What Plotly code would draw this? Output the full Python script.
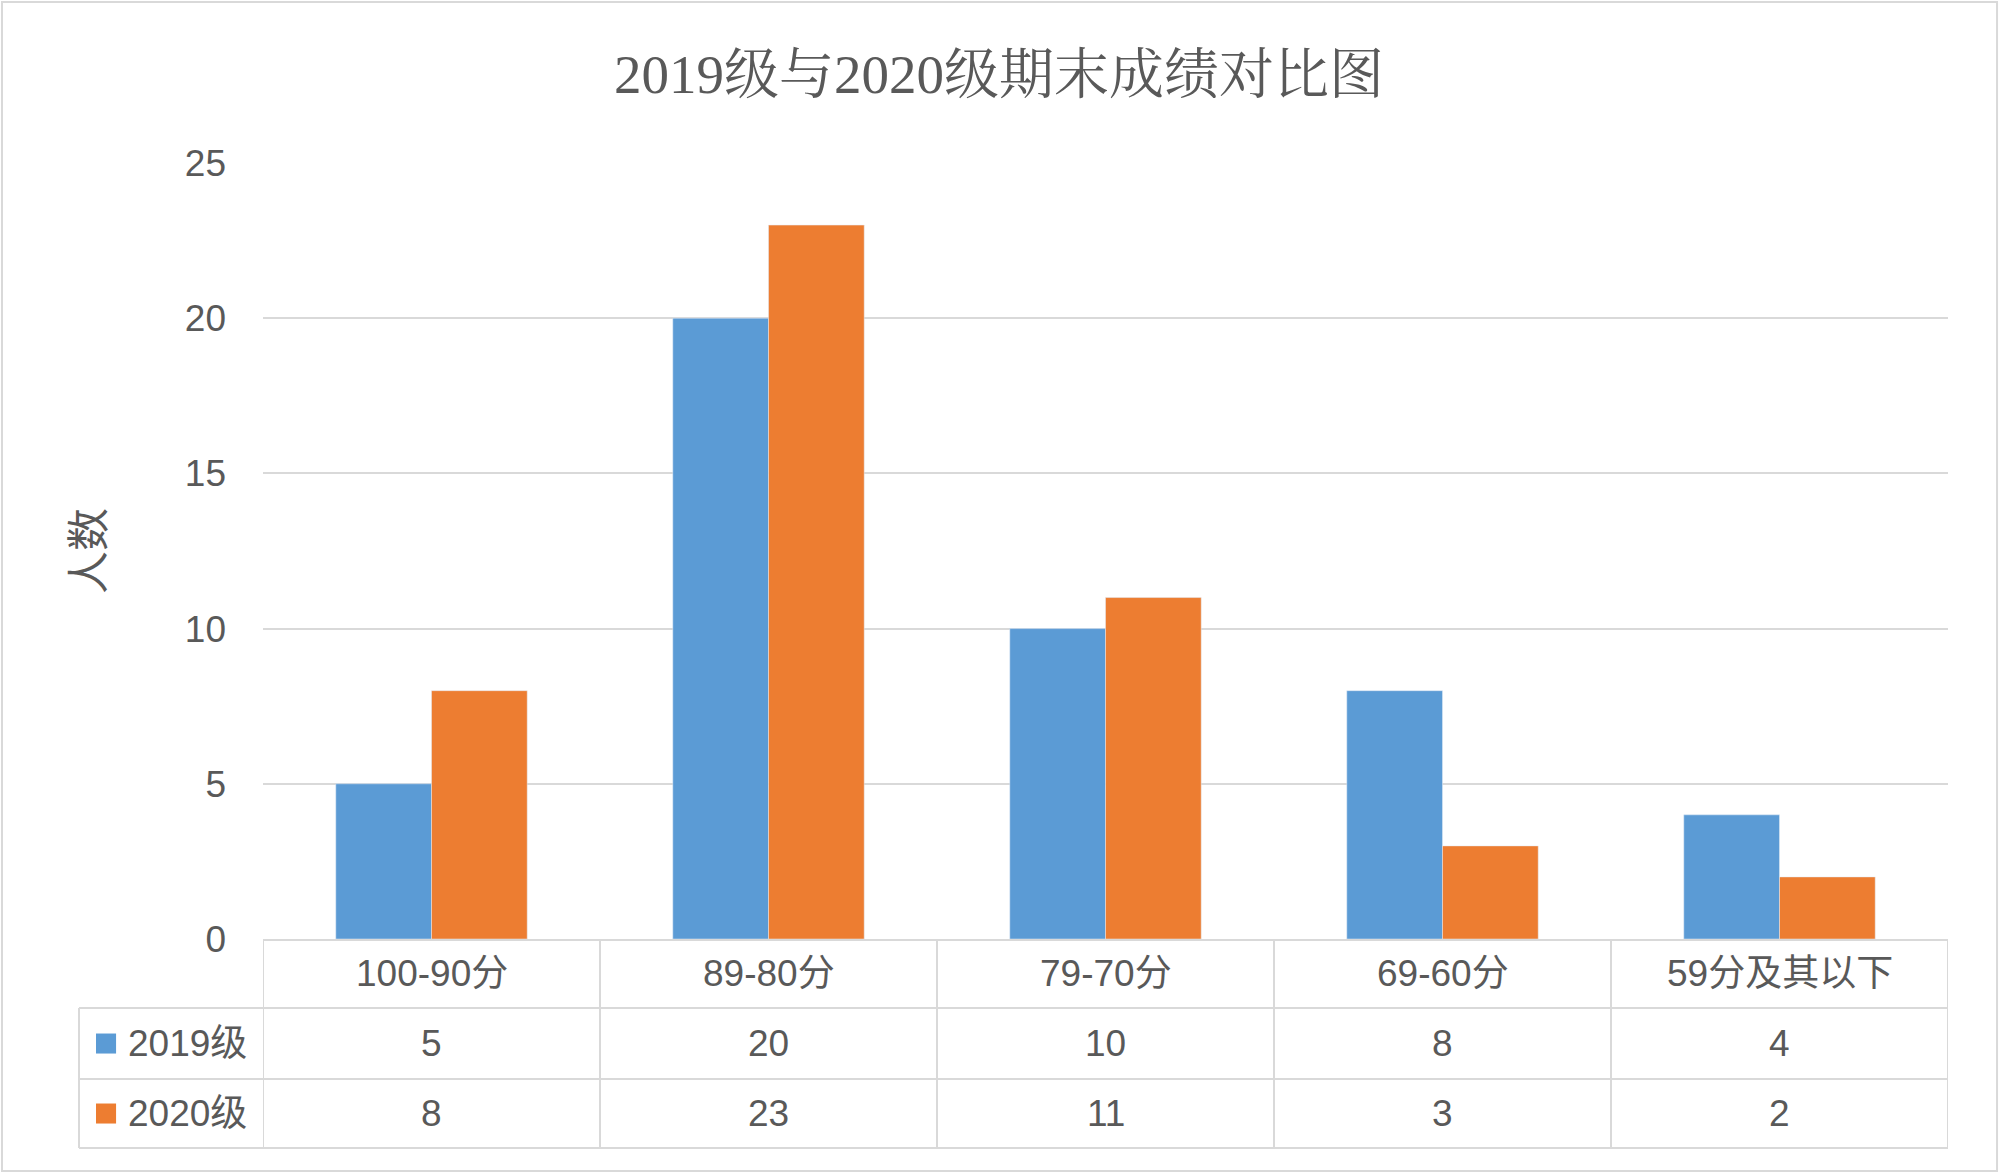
import plotly.graph_objects as go

categories = ["100-90分", "89-80分", "79-70分", "69-60分", "59分及其以下"]
series_names = ["2019级", "2020级"]
values_2019 = [5, 20, 10, 8, 4]
values_2020 = [8, 23, 11, 3, 2]
y_ticks = [0, 5, 10, 15, 20, 25]

colors = ["#5B9BD5", "#ED7D31"]
grid = "#D9D9D9"
txt = "#595959"
sans = "Liberation Sans, Noto Sans CJK SC, sans-serif"
serif = "Liberation Serif, Noto Serif CJK SC, Noto Sans CJK SC, serif"
fs = 37

fig = go.Figure()
for name, vals, col in zip(series_names, [values_2019, values_2020], colors):
    fig.add_trace(go.Bar(x=categories, y=vals, name=name, marker_color=col, showlegend=False))

# table under the plot (paper y, category x)
row_lines = [0, -0.0889, -0.1804, -0.2693]
row_mid = [-0.0445, -0.1347, -0.2249]
left_x = -0.1092

shapes = []
for i in range(len(categories) + 1):
    shapes.append(dict(type="line", xref="x", yref="paper", x0=i - 0.5, x1=i - 0.5,
                       y0=row_lines[0], y1=row_lines[-1], line=dict(color=grid, width=2)))
shapes.append(dict(type="line", xref="paper", yref="paper", x0=left_x, x1=left_x,
                   y0=row_lines[1], y1=row_lines[-1], line=dict(color=grid, width=2)))
for yl in row_lines[1:]:
    shapes.append(dict(type="line", xref="paper", yref="paper", x0=left_x, x1=1,
                       y0=yl, y1=yl, line=dict(color=grid, width=2)))
# outer chart border
shapes.append(dict(type="rect", xref="paper", yref="paper", x0=-0.1549, x1=1.0291,
                   y0=-0.299, y1=1.2075, line=dict(color=grid, width=2)))

annotations = []
for c in categories:
    annotations.append(dict(x=c, y=row_mid[0], xref="x", yref="paper", text=c, showarrow=False,
                            xanchor="center", yanchor="middle",
                            font=dict(family=sans, size=fs, color=txt)))
for r, (name, vals, col) in enumerate(zip(series_names, [values_2019, values_2020], colors)):
    ym = row_mid[r + 1]
    for c, v in zip(categories, vals):
        annotations.append(dict(x=c, y=ym, xref="x", yref="paper", text=str(v), showarrow=False,
                                xanchor="center", yanchor="middle",
                                font=dict(family=sans, size=fs, color=txt)))
    shapes.append(dict(type="rect", xref="paper", yref="paper", x0=-0.0991, x1=-0.0872,
                       y0=ym - 0.0129, y1=ym + 0.0129, fillcolor=col, line=dict(width=0)))
    annotations.append(dict(x=-0.0815, y=ym, xref="paper", yref="paper", text=name, showarrow=False,
                            xanchor="left", yanchor="middle",
                            font=dict(family=sans, size=fs, color=txt)))

annotations.append(dict(x=-0.1033, y=0.5, xref="paper", yref="paper", text="人数", showarrow=False,
                        xanchor="center", yanchor="middle", textangle=-90,
                        font=dict(family=sans, size=43, color=txt)))

fig.update_layout(
    width=2000, height=1175,
    margin=dict(l=263, r=52, t=163, b=236),
    paper_bgcolor="white", plot_bgcolor="white",
    barmode="group", bargap=0.432, bargroupgap=0,
    title=dict(text="2019级与2020级期末成绩对比图", x=0.4995, xref="container", xanchor="center",
               y=0.937, yref="container", yanchor="middle",
               font=dict(family=serif, size=55, color=txt)),
    xaxis=dict(showticklabels=False, showgrid=False, showline=True, linecolor=grid, linewidth=2,
               ticks="", range=[-0.5, len(categories) - 0.5]),
    yaxis=dict(range=[0, 25], tickvals=y_ticks, showgrid=True, gridcolor=grid, gridwidth=2,
               zeroline=False, showline=False, ticks="",
               tickfont=dict(family=sans, size=fs, color=txt), ticklabelstandoff=36),
    shapes=shapes, annotations=annotations,
)

fig.write_html("out.html", config={"displayModeBar": False},
               post_script="document.body.style.margin='0';")
